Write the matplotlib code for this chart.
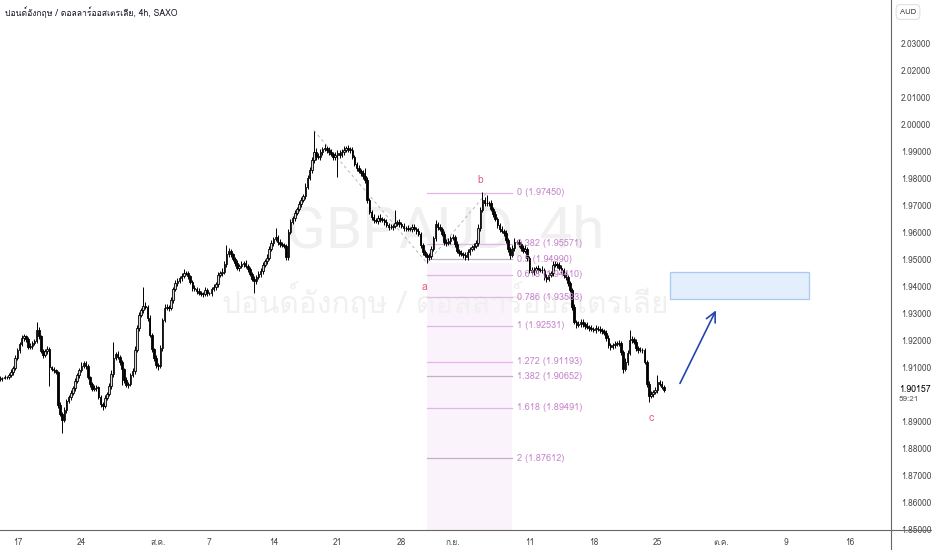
import numpy as np
import matplotlib
matplotlib.use("Agg")
import matplotlib.pyplot as plt
from matplotlib import font_manager
from matplotlib.ft2font import FT2Font
from matplotlib.lines import Line2D
from matplotlib.patches import Rectangle

# GBPAUD 4h closes, one per bar (bar 0 = Jul 13 2023 16:00)
first_open = 1.9055
closes = [
    1.9059, 1.9059, 1.9063, 1.9063, 1.9070, 1.9081, 1.9096, 1.9133, 1.9163, 1.9185,
    1.9207, 1.9215, 1.9204, 1.9174, 1.9178, 1.9189, 1.9196, 1.9237, 1.9215, 1.9159,
    1.9144, 1.9159, 1.9167, 1.9100, 1.9093, 1.9089, 1.9081, 1.8959, 1.8926, 1.8904,
    1.8941, 1.8974, 1.8989, 1.9004, 1.9022, 1.9048, 1.9070, 1.9089, 1.9104, 1.9115,
    1.9104, 1.9063, 1.9037, 1.9019, 1.9022, 1.9026, 1.8989, 1.8963, 1.8956, 1.8985,
    1.9000, 1.9030, 1.9074, 1.9133, 1.9148, 1.9137, 1.9118, 1.9093, 1.9052, 1.9033,
    1.9037, 1.9070, 1.9085, 1.9163, 1.9244, 1.9293, 1.9311, 1.9326, 1.9322, 1.9282,
    1.9219, 1.9167, 1.9133, 1.9107, 1.9104, 1.9170, 1.9274, 1.9319, 1.9322, 1.9319,
    1.9348, 1.9389, 1.9411, 1.9419, 1.9430, 1.9437, 1.9448, 1.9448, 1.9437, 1.9415,
    1.9393, 1.9389, 1.9381, 1.9374, 1.9370, 1.9370, 1.9385, 1.9374, 1.9374, 1.9389,
    1.9396, 1.9407, 1.9441, 1.9448, 1.9452, 1.9481, 1.9518, 1.9530, 1.9518, 1.9500,
    1.9485, 1.9467, 1.9474, 1.9481, 1.9485, 1.9474, 1.9463, 1.9444, 1.9426, 1.9419,
    1.9433, 1.9444, 1.9456, 1.9478, 1.9493, 1.9504, 1.9537, 1.9559, 1.9574, 1.9581,
    1.9563, 1.9556, 1.9552, 1.9548, 1.9507, 1.9600, 1.9637, 1.9652, 1.9670, 1.9685,
    1.9704, 1.9719, 1.9733, 1.9767, 1.9800, 1.9830, 1.9867, 1.9896, 1.9881, 1.9878,
    1.9896, 1.9907, 1.9911, 1.9904, 1.9896, 1.9889, 1.9878, 1.9885, 1.9893, 1.9885,
    1.9896, 1.9904, 1.9911, 1.9907, 1.9904, 1.9878, 1.9852, 1.9837, 1.9826, 1.9819,
    1.9807, 1.9793, 1.9719, 1.9674, 1.9656, 1.9644, 1.9641, 1.9652, 1.9648, 1.9644,
    1.9637, 1.9626, 1.9619, 1.9619, 1.9622, 1.9633, 1.9637, 1.9630, 1.9622, 1.9615,
    1.9615, 1.9611, 1.9611, 1.9619, 1.9611, 1.9604, 1.9593, 1.9552, 1.9526, 1.9515,
    1.9507, 1.9511, 1.9537, 1.9578, 1.9630, 1.9619, 1.9611, 1.9593, 1.9563, 1.9559,
    1.9567, 1.9578, 1.9581, 1.9556, 1.9530, 1.9522, 1.9518, 1.9515, 1.9507, 1.9526,
    1.9537, 1.9544, 1.9548, 1.9559, 1.9615, 1.9681, 1.9719, 1.9707, 1.9707, 1.9707,
    1.9685, 1.9667, 1.9648, 1.9626, 1.9611, 1.9604, 1.9596, 1.9570, 1.9537, 1.9515,
    1.9541, 1.9563, 1.9563, 1.9556, 1.9541, 1.9530, 1.9537, 1.9504, 1.9459, 1.9452,
    1.9459, 1.9467, 1.9459, 1.9459, 1.9459, 1.9433, 1.9426, 1.9441, 1.9448, 1.9478,
    1.9481, 1.9478, 1.9467, 1.9459, 1.9441, 1.9433, 1.9411, 1.9385, 1.9322, 1.9267,
    1.9256, 1.9259, 1.9267, 1.9259, 1.9252, 1.9248, 1.9244, 1.9241, 1.9237, 1.9244,
    1.9241, 1.9237, 1.9233, 1.9226, 1.9207, 1.9181, 1.9174, 1.9181, 1.9185, 1.9189,
    1.9189, 1.9156, 1.9093, 1.9118, 1.9152, 1.9200, 1.9204, 1.9193, 1.9170, 1.9163,
    1.9163, 1.9163, 1.9118, 1.9037, 1.8993, 1.9000, 1.9007, 1.9015, 1.9044, 1.9037,
    1.9026, 1.90157,
]
# wick lengths in pips above / below the body
wick_up = [
    6, 4, 8, 5, 7, 10, 6, 12, 9, 8, 11, 9, 5, 7, 10, 6, 8, 30, 12, 5,
    9, 7, 12, 6, 5, 8, 4, 6, 10, 7, 12, 9, 6, 10, 8, 11, 7, 9, 13, 8,
    6, 9, 5, 7, 12, 8, 4, 6, 9, 11, 7, 10, 14, 60, 9, 12, 6, 8, 5, 10,
    7, 9, 11, 14, 12, 10, 8, 70, 15, 6, 9, 7, 5, 10, 8, 12, 9, 14, 10, 7,
    11, 8, 12, 9, 6, 10, 14, 8, 7, 5, 9, 12, 6, 10, 8, 7, 11, 9, 5, 8,
    12, 7, 10, 9, 14, 11, 35, 10, 8, 6, 9, 12, 7, 10, 8, 13, 6, 9, 7, 10,
    8, 11, 9, 12, 7, 14, 10, 12, 9, 34, 8, 10, 6, 9, 7, 12, 10, 8, 11, 9,
    12, 10, 8, 14, 11, 9, 12, 78, 14, 10, 12, 9, 15, 8, 10, 13, 7, 11, 9, 12,
    10, 14, 9, 12, 8, 10, 7, 9, 11, 8, 12, 30, 10, 8, 9, 12, 7, 10, 14, 8,
    9, 11, 7, 10, 8, 50, 9, 12, 6, 10, 8, 11, 7, 9, 12, 6, 10, 8, 9, 7,
    6, 10, 12, 9, 14, 8, 11, 7, 9, 10, 12, 8, 10, 7, 9, 6, 11, 8, 10, 12,
    9, 7, 10, 12, 14, 11, 29, 12, 29, 9, 10, 8, 12, 9, 7, 11, 8, 10, 9, 6,
    12, 14, 9, 10, 8, 11, 15, 7, 9, 10, 12, 8, 10, 9, 14, 7, 10, 12, 9, 15,
    10, 8, 12, 9, 7, 10, 8, 9, 6, 10, 8, 12, 9, 10, 7, 14, 8, 11, 9, 10,
    7, 12, 9, 8, 10, 11, 7, 9, 12, 8, 10, 9, 7, 14, 12, 37, 10, 8, 12, 9,
    10, 8, 9, 7, 10, 12, 9, 11, 26, 8, 10, 6,
]
wick_down = [
    8, 10, 5, 9, 6, 7, 11, 8, 6, 10, 7, 9, 12, 8, 6, 10, 9, 7, 11, 8,
    10, 6, 9, 70, 8, 12, 7, 10, 9, 48, 9, 12, 7, 10, 6, 9, 8, 11, 7, 9,
    10, 8, 12, 6, 9, 11, 7, 10, 14, 8, 9, 7, 10, 12, 8, 9, 11, 60, 10, 7,
    12, 9, 8, 10, 7, 11, 9, 12, 8, 10, 7, 12, 9, 10, 14, 8, 11, 9, 7, 10,
    9, 11, 8, 12, 7, 10, 9, 6, 11, 8, 10, 7, 12, 9, 8, 11, 6, 10, 9, 12,
    8, 10, 9, 7, 11, 8, 10, 12, 9, 7, 11, 8, 10, 9, 12, 7, 10, 8, 9, 45,
    10, 7, 9, 12, 8, 10, 9, 7, 11, 8, 10, 12, 8, 9, 11, 10, 8, 9, 12, 7,
    9, 11, 8, 10, 9, 7, 12, 10, 14, 9, 10, 12, 8, 11, 9, 7, 13, 10, 80, 12,
    9, 11, 8, 10, 12, 9, 7, 10, 8, 11, 9, 12, 10, 8, 11, 9, 7, 12, 10, 8,
    11, 9, 12, 8, 10, 7, 9, 11, 8, 10, 12, 9, 8, 10, 7, 11, 9, 12, 10, 8,
    22, 9, 11, 8, 10, 12, 9, 7, 11, 10, 8, 12, 9, 10, 7, 11, 8, 10, 12, 9,
    10, 8, 11, 9, 12, 10, 8, 9, 11, 10, 9, 12, 8, 10, 11, 7, 9, 12, 10, 14,
    9, 11, 8, 10, 12, 9, 7, 10, 11, 8, 10, 12, 9, 8, 11, 10, 12, 9, 8, 10,
    9, 11, 8, 10, 12, 9, 10, 8, 11, 9, 10, 8, 12, 9, 11, 7, 10, 9, 8, 12,
    9, 10, 11, 8, 12, 9, 10, 8, 11, 9, 10, 12, 15, 9, 10, 8, 11, 9, 10, 12,
    9, 10, 8, 12, 23, 9, 11, 8, 10, 9, 8, 7,
]

# time axis (bar index of each label)
tick_bars = [8, 38, 74, 98, 128, 158, 188, 212, 248, 278, 308, 338, 368, 398]
tick_labels = ["17", "24", "ส.ค.", "7", "14", "21", "28", "ก.ย.", "11", "18", "25", "ต.ค.", "9", "16"]
price_ticks = [1.85, 1.86, 1.87, 1.88, 1.89, 1.91, 1.92, 1.93, 1.94, 1.95,
               1.96, 1.97, 1.98, 1.99, 2.00, 2.01, 2.02, 2.03]

# trend-based fib extension
fib_ratios = ["0", "0.382", "0.5", "0.618", "0.786", "1", "1.272", "1.382", "1.618", "2"]
fib_prices = [1.97450, 1.95571, 1.94990, 1.94410, 1.93583, 1.92531, 1.91193, 1.90652, 1.89491, 1.87612]
wave_bars = [147, 200, 228]          # peak, a, b
wave_prices = [1.9976, 1.9485, 1.9745]
wave_names = ["a", "b", "c"]
wave_name_bars = [199, 225, 305]
wave_name_prices = [1.9396, 1.9793, 1.8911]

target_box = (314, 379, 1.9352, 1.9452)   # bar from, bar to, low, high
arrow_from = (318, 1.9030)
arrow_to = (336, 1.9319)
last_price = 1.90157

# ---- font with Thai glyphs ----
thai_font = None
for f in font_manager.fontManager.ttflist:
    try:
        if ord("ป") in FT2Font(f.fname).get_charmap():
            thai_font = f.name
            break
    except Exception:
        pass
fams = [thai_font, "DejaVu Sans"] if thai_font else ["DejaVu Sans"]
plt.rcParams["font.family"] = fams

fig = plt.figure(figsize=(9.32, 5.5), dpi=100)
ax = fig.add_axes([0, 20 / 550, 891 / 932, 530 / 550])
n = len(closes)
x = np.arange(n)
c = np.array(closes)
o = np.array([first_open] + closes[:-1])
hi = np.maximum(o, c) + np.array(wick_up) / 10000
lo = np.minimum(o, c) - np.array(wick_down) / 10000
up = c >= o

ax.vlines(x, lo, hi, color="black", lw=0.7, zorder=3)
body = np.maximum(np.abs(c - o), 0.0001)
ax.bar(x[up], body[up], bottom=o[up], width=0.75, color="#d8d8d8",
       edgecolor="black", linewidth=0.6, zorder=4)
ax.bar(x[~up], body[~up], bottom=c[~up], width=0.75, color="black",
       edgecolor="black", linewidth=0.6, zorder=4)

# fib extension
fx0, fx1 = wave_bars[1], 240
fib_colors = ["#e2b6e6", "#e2b6e6", "#bfb0c4", "#e2b6e6", "#e2b6e6",
              "#e2b6e6", "#e2b6e6", "#bfb0c4", "#e2b6e6", "#bfb0c4"]
ax.add_patch(Rectangle((fx0, 1.80), fx1 - fx0, wave_prices[1] - 1.80,
                       facecolor="#fbf3fb", edgecolor="none", zorder=0))
for r, p, col in zip(fib_ratios, fib_prices, fib_colors):
    ax.plot([fx0, fx1], [p, p], color=col, lw=0.9, zorder=2)
    ax.text(fx1 + 2, p, f"{r} ({p:.5f})", color="#c784cc", fontsize=6.6,
            va="center", ha="left", zorder=5)
ax.plot(wave_bars, wave_prices, color="#b8b8b8", lw=0.7, ls=(0, (3, 3)), zorder=2)
for t, b, p in zip(wave_names, wave_name_bars, wave_name_prices):
    ax.text(b, p, t, color="#e0607e", fontsize=7.5, ha="center", va="center")

ax.add_patch(Rectangle((target_box[0], target_box[2]), target_box[1] - target_box[0],
                       target_box[3] - target_box[2], facecolor="#e3effd",
                       edgecolor="#a9c9f2", lw=0.9, zorder=2))
ax.annotate("", xy=arrow_to, xytext=arrow_from,
            arrowprops=dict(arrowstyle="->,head_length=0.7,head_width=0.35",
                            color="#2147ad", lw=1.2))

# watermark
ax.text(0.5, 1 - 232 / 530, "GBPAUD, 4h", transform=ax.transAxes, fontsize=42,
        family=["Roboto", "DejaVu Sans"], color="#f0f0f0", ha="center", va="center", zorder=1)
ax.text(0.5, 1 - 300 / 530, "ปอนด์อังกฤษ / ดอลลาร์ออสเตรเลีย", transform=ax.transAxes,
        fontsize=21.5, color="#f0f0f0", ha="center", va="center", zorder=1)

ax.set_xlim(-0.17, -0.17 + 891 / 2.1333)
ax.set_ylim(2.04593 - 530 / 2700, 2.04593)
for s in ax.spines.values():
    s.set_visible(False)
ax.set_xticks(tick_bars)
ax.set_xticklabels(tick_labels)
ax.yaxis.tick_right()
ax.set_yticks(price_ticks)
ax.set_yticklabels([f"{p:.5f}" for p in price_ticks])
ax.tick_params(axis="both", length=0, labelsize=6, colors="#4a4a4a")
ax.tick_params(axis="x", pad=6)
ax.tick_params(axis="y", pad=7)
ax.text(1.009, last_price, f"{last_price:.5f}", transform=ax.get_yaxis_transform(),
        fontsize=6.3, color="black", va="center", ha="left")
ax.text(1.009, last_price - 0.0037, "59:21", transform=ax.get_yaxis_transform(),
        fontsize=5.8, color="#555555", va="center", ha="left")

fig.add_artist(Line2D([891 / 932] * 2, [0, 1], transform=fig.transFigure, color="#666666", lw=0.8))
fig.add_artist(Line2D([0, 1], [20 / 550] * 2, transform=fig.transFigure, color="#666666", lw=0.8))
fig.text(908 / 932, 1 - 12 / 550, "AUD", fontsize=5.5, color="#333333", ha="center", va="center",
         bbox=dict(boxstyle="round,pad=0.5", fc="white", ec="#d6d6d6", lw=0.6))
fig.text(5 / 932, 1 - 12 / 550, "ปอนด์อังกฤษ / ดอลลาร์ออสเตรเลีย, 4h, SAXO",
         fontsize=6.2, color="#131722", ha="left", va="center")

fig.savefig("out.png", dpi=100)
